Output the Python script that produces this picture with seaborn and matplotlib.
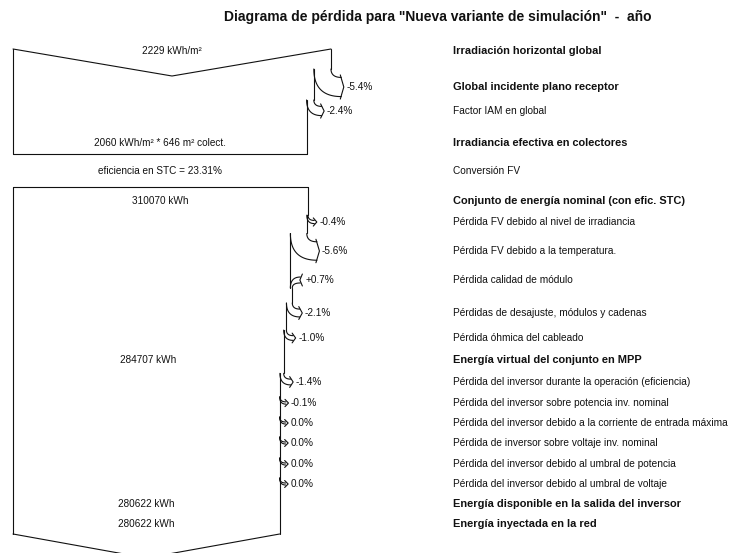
import matplotlib
matplotlib.use("Agg")
import matplotlib.pyplot as plt
import numpy as np
import pandas as pd
import seaborn as sns

# ---- data -------------------------------------------------------------
title = 'Diagrama de pérdida para "Nueva variante de simulación"  -  año'

ghi = 2229            # kWh/m2
eff_irr = 2060        # kWh/m2
coll_area = 646       # m2
stc_eff = 23.31       # %
irr_losses = [-5.4, -2.4]

e_nominal = 310070    # kWh
array_losses = [-0.4, -5.6, 0.7, -2.1, -1.0]
e_mpp = 284707
inverter_losses = [-1.4, -0.1, 0.0, 0.0, 0.0, 0.0]
e_inv_out = 280622
e_grid = 280622

row_labels = [
    "Irradiación horizontal global",
    "Global incidente plano receptor",
    "Factor IAM en global",
    "Irradiancia efectiva en colectores",
    "Conversión FV",
    "Conjunto de energía nominal (con efic. STC)",
    "Pérdida FV debido al nivel de irradiancia",
    "Pérdida FV debido a la temperatura.",
    "Pérdida calidad de módulo",
    "Pérdidas de desajuste, módulos y cadenas",
    "Pérdida óhmica del cableado",
    "Energía virtual del conjunto en MPP",
    "Pérdida del inversor durante la operación (eficiencia)",
    "Pérdida del inversor sobre potencia inv. nominal",
    "Pérdida del inversor debido a la corriente de entrada máxima",
    "Pérdida de inversor sobre voltaje inv. nominal",
    "Pérdida del inversor debido al umbral de potencia",
    "Pérdida del inversor debido al umbral de voltaje",
    "Energía disponible en la salida del inversor",
    "Energía inyectada en la red",
]
row_bold = [1, 1, 0, 1, 0, 1, 0, 0, 0, 0, 0, 1, 0, 0, 0, 0, 0, 0, 1, 1]

# ---- layout (pixel coordinates) --------------------------------------
row_y = [51, 87, 111, 143, 171, 201, 222, 251, 280, 313, 338, 360,
         382, 403, 423, 443, 464, 484, 504, 524]
X0 = 13
BOX1_W, BOX1_TOP, BOX1_V, BOX1_BOT = 318, 49, 27, 154
BOX2_W, BOX2_TOP, BOX2_BOT, BOX2_V = 295, 187, 534, 24
LABEL_X = 453
INK = "#111111"
LW = 0.8
FS = 7.2

sns.set_theme(style="white")
plt.rcParams["font.family"] = ["Liberation Sans", "DejaVu Sans"]

fig = plt.figure(figsize=(7.43, 5.53), dpi=100)
ax = fig.add_axes([0, 0, 1, 1])
ax.set_xlim(0, 743)
ax.set_ylim(553, 0)
ax.axis("off")


def bezier(p0, p1, p2, n=30):
    t = np.linspace(0, 1, n)[:, None]
    pts = (1 - t) ** 2 * np.array(p0) + 2 * (1 - t) * t * np.array(p1) + t ** 2 * np.array(p2)
    return pts[:, 0], pts[:, 1]


def line(xs, ys):
    df = pd.DataFrame({"x": xs, "y": ys})
    sns.lineplot(data=df, x="x", y="y", sort=False, estimator=None,
                 color=INK, linewidth=LW, ax=ax)


def pct_text(v):
    return f"{v:+.1f}%" if v > 0 else f"{v:.1f}%"


def draw_chain(xr, y_top, losses, rows, y_bot):
    y_prev = y_top
    for pct, yl in zip(losses, rows):
        w = abs((xr - X0) * pct / 100)
        if pct <= 0:
            dx = 6 + 0.25 * w
            ya, yb = yl - w / 2 - 1, yl + w / 2 + 1
            y0 = ya - (5 + 0.2 * w)
            xe = xr + dx
            ax.plot(*bezier((xr, y0), (xr, ya), (xe, ya)), color=INK, lw=LW)
            ax.plot(*bezier((xr - w, y0), (xr - w, yb), (xe, yb)), color=INK, lw=LW)
            ax.plot([xe - 1, xe + 2.5, xe - 1], [ya - 2.5, yl, yb + 2.5], color=INK, lw=LW)
            line([xr, xr], [y_prev, y0])
            xr_new = xr - w
        else:
            xe = xr + 10
            ya, yb = yl - w / 2 - 2, yl + w / 2 + 2
            y0 = yb + 5
            ax.plot(*bezier((xe, ya), (xr, ya), (xr, y0)), color=INK, lw=LW)
            ax.plot(*bezier((xe, yb), (xr + w, yb), (xr + w, y0)), color=INK, lw=LW)
            ax.plot([xe + 2, xe - 0.5, xe + 2], [ya - 3, yl, yb + 3], color=INK, lw=LW)
            line([xr, xr], [y_prev, y0])
            xr_new = xr + w
        ax.text(xe + 5, yl, pct_text(pct), fontsize=FS, color=INK, va="center", ha="left")
        xr, y_prev = xr_new, y0
    line([xr, xr], [y_prev, y_bot])
    return xr


# ---- box 1 : irradiation -------------------------------------------
x_r1 = X0 + BOX1_W
line([X0, X0 + BOX1_W / 2, x_r1], [BOX1_TOP, BOX1_TOP + BOX1_V, BOX1_TOP])
line([X0, X0], [BOX1_TOP, BOX1_BOT])
x_end1 = draw_chain(x_r1, BOX1_TOP, irr_losses, row_y[1:3], BOX1_BOT)
line([X0, x_end1], [BOX1_BOT, BOX1_BOT])

ax.text((X0 + x_r1) / 2, row_y[0], f"{ghi} kWh/m²", fontsize=FS, color=INK,
        ha="center", va="center")
ax.text((X0 + x_end1) / 2, row_y[3], f"{eff_irr} kWh/m² * {coll_area} m² colect.",
        fontsize=FS, color=INK, ha="center", va="center")
ax.text((X0 + x_end1) / 2, row_y[4], f"eficiencia en STC = {stc_eff:.2f}%",
        fontsize=FS, color=INK, ha="center", va="center")

# ---- box 2 : energy -------------------------------------------------
x_r2 = X0 + BOX2_W
line([X0, x_r2], [BOX2_TOP, BOX2_TOP])
line([X0, X0], [BOX2_TOP, BOX2_BOT])
rows2 = row_y[6:11] + row_y[12:18]
x_mpp = x_r2
for p in array_losses:
    x_mpp += (x_mpp - X0) * p / 100
x_end2 = draw_chain(x_r2, BOX2_TOP, array_losses + inverter_losses, rows2, BOX2_BOT)
xm = (X0 + x_end2) / 2
line([X0, xm, x_end2], [BOX2_BOT, BOX2_BOT + BOX2_V, BOX2_BOT])

ax.text((X0 + x_r2) / 2, row_y[5], f"{e_nominal} kWh", fontsize=FS, color=INK,
        ha="center", va="center")
ax.text((X0 + x_mpp) / 2, row_y[11], f"{e_mpp} kWh", fontsize=FS, color=INK,
        ha="center", va="center")
ax.text(xm, row_y[18], f"{e_inv_out} kWh", fontsize=FS, color=INK, ha="center", va="center")
ax.text(xm, row_y[19], f"{e_grid} kWh", fontsize=FS, color=INK, ha="center", va="center")

# ---- right column labels ---------------------------------------------
for txt, y, b in zip(row_labels, row_y, row_bold):
    ax.text(LABEL_X, y, txt, fontsize=7.9 if b else 7.3, color=INK,
            fontweight="bold" if b else "normal", ha="left", va="center")

ax.text(438, 17, title, fontsize=10, fontweight="bold", color=INK, ha="center", va="center")

fig.savefig("out.png", dpi=100, facecolor="white")
